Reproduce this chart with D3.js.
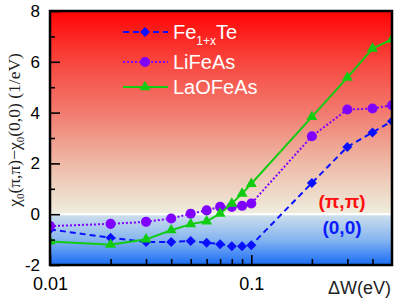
<!DOCTYPE html>
<html>
<head>
<meta charset="utf-8">
<script src="https://cdn.jsdelivr.net/npm/d3@7"></script>
<style>
  body { margin: 0; background: #fff; }
  text { font-family: "Liberation Sans", Arial, sans-serif; }
</style>
</head>
<body>
<svg width="399" height="304"></svg>
<script>
// data
const dW = [0.01, 0.02, 0.03, 0.04, 0.05, 0.06, 0.07, 0.08, 0.09, 0.1, 0.2, 0.3, 0.4, 0.5];
const feTe = [-0.6, -0.93, -1.09, -1.09, -1.06, -1.12, -1.18, -1.26, -1.26, -1.22, 1.23, 2.65, 3.22, 3.66];
const liFeAs = [-0.47, -0.38, -0.3, -0.17, 0.02, 0.15, 0.29, 0.29, 0.33, 0.42, 3.07, 4.12, 4.16, 4.29];
const laOFeAs = [-1.07, -1.2, -0.99, -0.63, -0.39, -0.28, 0.02, 0.42, 0.81, 1.2, 3.83, 5.38, 6.52, 6.88];

const xMajor = [0.01, 0.1];
const xMinor = [0.02, 0.03, 0.04, 0.05, 0.06, 0.07, 0.08, 0.09, 0.2, 0.3, 0.4];
const yMajor = [-2, 0, 2, 4, 6, 8];
const yMinor = [-1, 1, 3, 5, 7];

const series = [
  { name: 'Fe', sub: '1+x', tail: 'Te', values: feTe, color: '#0a10ff', dash: '6,4', symbol: 'diamond' },
  { name: 'LiFeAs', values: liFeAs, color: '#8000ff', dash: '2,2', symbol: 'circle' },
  { name: 'LaOFeAs', values: laOFeAs, color: '#11cc11', dash: null, symbol: 'triangle' },
];

const svg = d3.select('svg');
const margin = { top: 11, right: 7, bottom: 39, left: 50 };
const width = 399 - margin.left - margin.right;
const height = 304 - margin.top - margin.bottom;

const x = d3.scaleLog().domain([0.01, 0.5]).range([0, width]);
const y = d3.scaleLinear().domain([-2, 8]).range([height, 0]);

const g = svg.append('g').attr('transform', `translate(${margin.left},${margin.top})`);

// background gradient red -> pale -> blue
const defs = svg.append('defs');
const grad = defs.append('linearGradient')
  .attr('id', 'bg')
  .attr('gradientUnits', 'userSpaceOnUse')
  .attr('x1', 0).attr('x2', 0)
  .attr('y1', y(8)).attr('y2', y(-2));
const stops = [
  [8, '#ff0404'], [6, '#f8463e'], [4, '#f27b6f'], [2, '#eebaa6'], [0, '#eeeedf'],
  [0, '#d0e0ec'], [-1, '#86b5f0'], [-2, '#1a6cf6'],
];
grad.selectAll('stop')
  .data(stops)
  .enter().append('stop')
    .attr('offset', d => (y(d[0]) - y(8)) / (y(-2) - y(8)))
    .attr('stop-color', d => d[1]);

defs.append('clipPath').attr('id', 'clip')
  .append('rect').attr('width', width).attr('height', height);

g.append('rect')
  .attr('width', width).attr('height', height)
  .attr('fill', 'url(#bg)');

g.append('line')
  .attr('x1', 0).attr('x2', width)
  .attr('y1', y(0)).attr('y2', y(0))
  .attr('stroke', '#fff').attr('stroke-width', 2);

const symbolPath = type => {
  if (type === 'diamond') return d3.symbol(d3.symbolSquare, 50)();
  if (type === 'circle') return d3.symbol(d3.symbolCircle, 80)();
  return d3.symbol(d3.symbolTriangle, 52)();
};

const plot = g.append('g').attr('clip-path', 'url(#clip)');
const line = d3.line().x((d, i) => x(dW[i])).y(d => y(d));

series.forEach(s => {
  plot.append('path')
    .attr('d', line(s.values))
    .attr('fill', 'none')
    .attr('stroke', s.color)
    .attr('stroke-width', 2)
    .attr('stroke-dasharray', s.dash);
  plot.selectAll(null)
    .data(s.values)
    .enter().append('path')
      .attr('d', symbolPath(s.symbol))
      .attr('transform', (d, i) => `translate(${x(dW[i])},${y(d)})` + (s.symbol === 'diamond' ? ' rotate(45)' : ''))
      .attr('fill', s.color);
});

// axes: ticks point inward
const styleAxis = sel => {
  sel.select('.domain').remove();
  sel.selectAll('line').attr('stroke', '#000').attr('stroke-width', 1.6);
};

g.append('g')
  .attr('transform', `translate(0,${height})`)
  .call(d3.axisBottom(x).tickValues(xMinor).tickSize(-6).tickFormat(''))
  .call(styleAxis);
g.append('g')
  .attr('transform', `translate(0,${height})`)
  .call(d3.axisBottom(x).tickValues(xMajor).tickSize(-10).tickPadding(12).tickFormat(d3.format('')))
  .call(styleAxis)
  .selectAll('text')
    .attr('font-size', 18).attr('fill', '#000')
    .style('font-family', '"Liberation Sans", Arial, sans-serif');

g.append('g')
  .call(d3.axisLeft(y).tickValues(yMinor).tickSize(-5).tickFormat(''))
  .call(styleAxis);
g.append('g')
  .call(d3.axisLeft(y).tickValues(yMajor).tickSize(-10).tickPadding(10))
  .call(styleAxis)
  .selectAll('text')
    .attr('font-size', 17).attr('fill', '#000')
    .style('font-family', '"Liberation Sans", Arial, sans-serif')
    .text(d => d < 0 ? '-' + Math.abs(d) : d);

// frame
g.append('rect')
  .attr('width', width).attr('height', height)
  .attr('fill', 'none').attr('stroke', '#000').attr('stroke-width', 2.5);

// legend
const legend = g.append('g').attr('transform', 'translate(73,21)');
const legendY = [0, 30, 55];
series.forEach((s, i) => {
  const row = legend.append('g').attr('transform', `translate(0,${legendY[i]})`);
  row.append('line')
    .attr('x1', 0).attr('x2', 45)
    .attr('stroke', s.color).attr('stroke-width', 2)
    .attr('stroke-dasharray', s.dash);
  row.append('path')
    .attr('d', symbolPath(s.symbol))
    .attr('transform', 'translate(22,0)' + (s.symbol === 'diamond' ? ' rotate(45)' : ''))
    .attr('fill', s.color);
  const t = row.append('text')
    .attr('x', 50).attr('y', 7)
    .attr('font-size', 20).attr('fill', '#fff');
  t.append('tspan').text(s.name);
  if (s.sub) {
    t.append('tspan').attr('font-size', 12).attr('dy', 6).text(s.sub);
    t.append('tspan').attr('dy', -6).text(s.tail);
  }
});

// region labels
g.append('text')
  .attr('x', 292).attr('y', y(0) - 6)
  .attr('text-anchor', 'middle')
  .attr('font-size', 19).attr('font-weight', 'bold')
  .attr('fill', '#ff1010')
  .text('(π,π)');
g.append('text')
  .attr('x', 292).attr('y', y(0) + 20)
  .attr('text-anchor', 'middle')
  .attr('font-size', 19).attr('font-weight', 'bold')
  .attr('fill', '#0a1aff')
  .text('(0,0)');

// axis titles
svg.append('text')
  .attr('x', 391).attr('y', 294)
  .attr('text-anchor', 'end')
  .attr('font-size', 18).attr('fill', '#222')
  .text('ΔW(eV)');

const yt = svg.append('text')
  .attr('transform', 'translate(20,130) rotate(-90)')
  .attr('text-anchor', 'middle')
  .attr('font-size', 17.5).attr('fill', '#222');
const serif = '"Liberation Serif", serif';
yt.append('tspan').style('font-family', serif).text('χ');
yt.append('tspan').style('font-family', serif).attr('font-size', 11).attr('dy', 4).text('0');
yt.append('tspan').style('font-family', serif).attr('dy', -4).text('(π,π)−χ');
yt.append('tspan').style('font-family', serif).attr('font-size', 11).attr('dy', 4).text('0');
yt.append('tspan').style('font-family', serif).attr('dy', -4).text('(0,0) (1/eV)');
</script>
</body>
</html>
